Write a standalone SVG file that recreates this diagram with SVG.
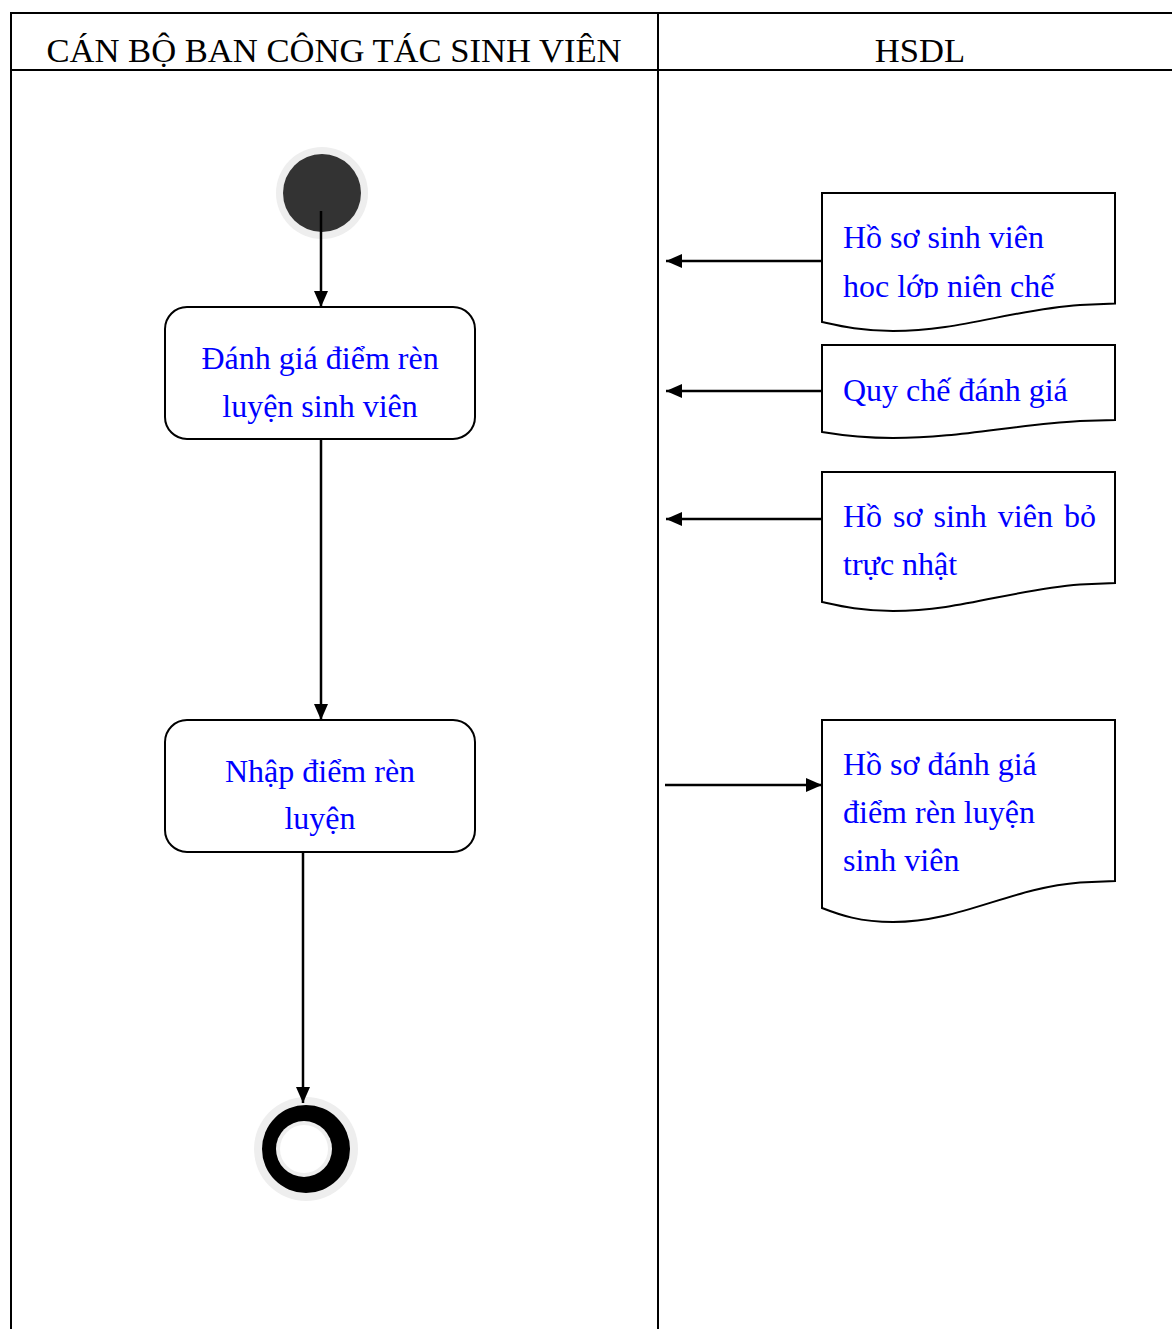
<svg xmlns="http://www.w3.org/2000/svg" width="1172" height="1329" viewBox="0 0 1172 1329">
  <style>
    .frame { stroke: #000; stroke-width: 2; fill: none; }
    .head { font-family: "Liberation Serif", "Times New Roman", serif; font-size: 34.6px; fill: #000; }
    .lbl { font-family: "Liberation Serif", "Times New Roman", serif; font-size: 32px; fill: #0000ff; }
    .act { fill: #fff; stroke: #000; stroke-width: 2; }
    .doc { fill: #fff; stroke: #000; stroke-width: 2; stroke-linejoin: miter; }
    .edge { stroke: #000; stroke-width: 2.5; fill: none; }
  </style>
  <defs>
    <marker id="arrow" viewBox="0 0 16 14" refX="16" refY="7" markerUnits="userSpaceOnUse" markerWidth="16" markerHeight="14" orient="auto">
      <path d="M0,0 L16,7 L0,14 Z" fill="#000"/>
    </marker>
    <clipPath id="clipDoc1">
      <rect x="822" y="193" width="293" height="105"/>
    </clipPath>
  </defs>
  <rect width="1172" height="1329" fill="#fff"/>

  <!-- swimlane table -->
  <g id="lanes">
    <line class="frame" x1="11" y1="13" x2="1172" y2="13"/>
    <line class="frame" x1="11" y1="70" x2="1172" y2="70"/>
    <line class="frame" x1="11" y1="12" x2="11" y2="1329"/>
    <line class="frame" x1="658" y1="12" x2="658" y2="1329"/>
    <text class="head" x="334" y="62" text-anchor="middle">CÁN BỘ BAN CÔNG TÁC SINH VIÊN</text>
    <text class="head" x="920" y="62" text-anchor="middle">HSDL</text>
  </g>

  <!-- start -->
  <g id="start">
    <circle cx="322" cy="193" r="46" fill="#eeeeee"/>
    <circle cx="322" cy="193" r="39" fill="#333333"/>
  </g>

  <!-- activities -->
  <g id="act-danh-gia">
    <rect class="act" x="165" y="307" width="310" height="132" rx="22" ry="22"/>
    <text class="lbl" x="320" y="369" text-anchor="middle">Đánh giá điểm rèn</text>
    <text class="lbl" x="320" y="417" text-anchor="middle">luyện sinh viên</text>
  </g>

  <g id="act-nhap-diem">
    <rect class="act" x="165" y="720" width="310" height="132" rx="22" ry="22"/>
    <text class="lbl" x="320" y="782" text-anchor="middle">Nhập điểm rèn</text>
    <text class="lbl" x="320" y="829" text-anchor="middle">luyện</text>
  </g>

  <!-- end -->
  <g id="end">
    <circle cx="306" cy="1149" r="52" fill="#eeeeee"/>
    <circle cx="306" cy="1149" r="44" fill="#000"/>
    <circle cx="304" cy="1149" r="28" fill="#eeeeee"/>
    <circle cx="304" cy="1149" r="24" fill="#fff"/>
  </g>

  <!-- documents -->
  <g id="doc-ho-so-nien-che">
    <path class="doc" d="M822,193 H1115 V303.5 L1080,305 C1010,310 960,331 893,331 C860,331 840,326 822,322 Z"/>
    <g clip-path="url(#clipDoc1)">
      <text class="lbl" x="843" y="248">Hồ sơ sinh viên</text>
      <text class="lbl" x="843" y="297">học lớp niên chế</text>
    </g>
  </g>

  <g id="doc-quy-che">
    <path class="doc" d="M822,345 H1115 V420 L1080,421 C1010,425 960,438 893,438 C860,438 840,435 822,432 Z"/>
    <text class="lbl" x="843" y="401">Quy chế đánh giá</text>
  </g>

  <g id="doc-bo-truc-nhat">
    <path class="doc" d="M822,472 H1115 V583 L1080,584.5 C1010,590 960,611 893,611 C860,611 840,606 822,602 Z"/>
    <text class="lbl" x="843" y="527" word-spacing="3">Hồ sơ sinh viên bỏ</text>
    <text class="lbl" x="843" y="575">trực nhật</text>
  </g>

  <g id="doc-ket-qua">
    <path class="doc" d="M822,720 H1115 V881 L1080,882.5 C1010,888 960,922 893,922 C860,922 840,915 822,908 Z"/>
    <text class="lbl" x="843" y="775">Hồ sơ đánh giá</text>
    <text class="lbl" x="843" y="823">điểm rèn luyện</text>
    <text class="lbl" x="843" y="871">sinh viên</text>
  </g>

  <!-- flows -->
  <g id="connectors">
    <line class="edge" x1="321" y1="211" x2="321" y2="307" marker-end="url(#arrow)"/>
    <line class="edge" x1="321" y1="439" x2="321" y2="720" marker-end="url(#arrow)"/>
    <line class="edge" x1="303" y1="852" x2="303" y2="1103" marker-end="url(#arrow)"/>
    <line class="edge" x1="822" y1="261" x2="666" y2="261" marker-end="url(#arrow)"/>
    <line class="edge" x1="822" y1="391" x2="666" y2="391" marker-end="url(#arrow)"/>
    <line class="edge" x1="822" y1="519" x2="666" y2="519" marker-end="url(#arrow)"/>
    <line class="edge" x1="665" y1="785" x2="822" y2="785" marker-end="url(#arrow)"/>
  </g>
</svg>
